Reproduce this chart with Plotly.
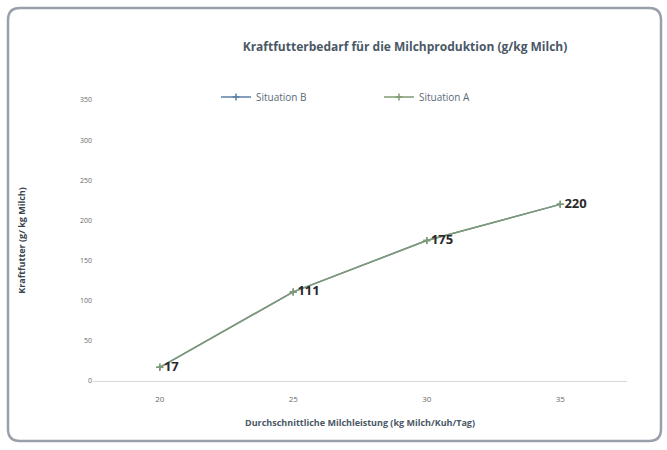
import plotly.graph_objects as go

categories = ["20", "25", "30", "35"]
situation_b = [17, 111, 175, 220]
situation_a = [17, 111, 175, 220]
labels = ["17", "111", "175", "220"]

W, H = 667, 450
L, R, T, B = 93, 40, 100, 69
pw, ph = W - L - R, H - T - B

def px_x(p):
    return (p - L) / pw

def px_y(p):
    return (H - B - p) / ph

fig = go.Figure()
fig.add_trace(go.Scatter(
    x=categories, y=situation_b, name="Situation B", mode="lines+markers",
    line=dict(color="#5b7fa6", width=1.5), marker=dict(symbol="cross-thin", size=5, line=dict(color="#5b7fa6", width=1.5)),
))
fig.add_trace(go.Scatter(
    x=categories, y=situation_a, name="Situation A", mode="lines+markers+text",
    text=labels, textposition="middle right",
    textfont=dict(family="Open Sans", size=13, color="#2a2a2a", weight="bold"),
    line=dict(color="#7f9a73", width=1.5), marker=dict(symbol="cross-thin", size=5, line=dict(color="#7f9a73", width=1.5)),
))

# rounded border of the chart area
x0, x1 = px_x(8), px_x(661)
y0, y1 = px_y(441), px_y(8)
rx, ry = 12 / pw, 12 / ph
path = (f"M {x0+rx},{y1} L {x1-rx},{y1} Q {x1},{y1} {x1},{y1-ry} "
        f"L {x1},{y0+ry} Q {x1},{y0} {x1-rx},{y0} L {x0+rx},{y0} "
        f"Q {x0},{y0} {x0},{y0+ry} L {x0},{y1-ry} Q {x0},{y1} {x0+rx},{y1} Z")

fig.update_layout(
    width=W, height=H,
    margin=dict(l=L, r=R, t=T, b=B),
    paper_bgcolor="white", plot_bgcolor="white",
    font=dict(family="Open Sans", color="#5a6470"),
    title=dict(text="Kraftfutterbedarf für die Milchproduktion (g/kg Milch)",
               x=405 / W, xanchor="center", y=1 - 47 / H, yanchor="middle",
               font=dict(size=12, color="#4a5866", weight="bold")),
    legend=dict(orientation="h", x=px_x(216), xanchor="left", y=px_y(97), yanchor="middle",
                entrywidth=118, entrywidthmode="pixels", itemwidth=30,
                font=dict(size=10, color="#5a6a78"), bgcolor="rgba(0,0,0,0)"),
    shapes=[dict(type="path", xref="paper", yref="paper", path=path,
                 line=dict(color="#9aa0aa", width=2.5), layer="below")],
    showlegend=True,
)
fig.update_xaxes(type="category", range=[-0.5, 3.5], showgrid=False,
                 showline=True, linecolor="#d8d8d8", linewidth=1,
                 ticks="", ticklabelstandoff=10, tickfont=dict(size=8, color="#6a6a6a"),
                 title=dict(text="Durchschnittliche Milchleistung (kg Milch/Kuh/Tag)",
                            font=dict(size=9, color="#4a5866", weight="bold"), standoff=17))
fig.update_yaxes(range=[0, 350], dtick=50, showgrid=False, zeroline=False,
                 showline=False, ticks="", tickfont=dict(size=7, color="#6a6a6a"),
                 title=dict(text="Kraftfutter (g/ kg Milch)",
                            font=dict(size=9, color="#3a4450", weight="bold"), standoff=52))

fig.write_html("out.html")
